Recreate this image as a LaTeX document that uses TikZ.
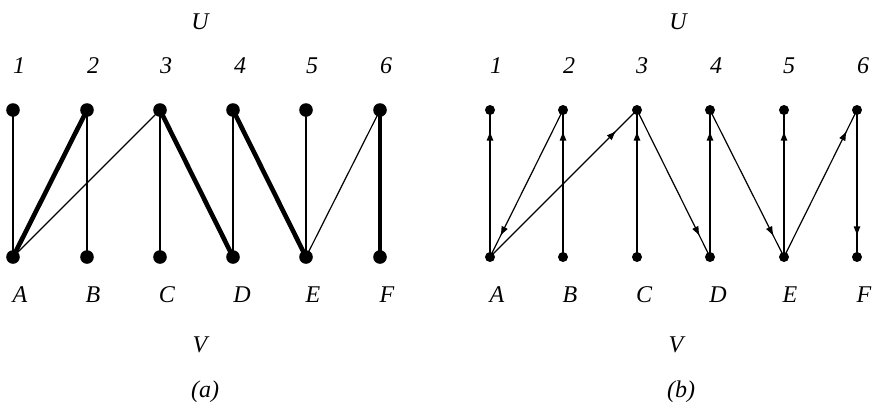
\documentclass[tikz,border=0pt]{standalone}
\usepackage{fontspec}
\setmainfont{Liberation Serif}
\usetikzlibrary{arrows.meta,decorations.markings}

\begin{document}
\begin{tikzpicture}[
    x=0.5pt, y=-0.5pt,
    bigdot/.style={circle, fill=black, inner sep=0pt, minimum size=6.8pt},
    smalldot/.style={circle, fill=black, inner sep=0pt, minimum size=5pt},
    lab/.style={font=\fontsize{12}{14}\selectfont\itshape, inner sep=0pt},
    thin/.style={line width=0.6pt},
    heavy/.style={line width=2.3pt},
    arr/.style={line width=0.6pt, postaction={decorate},
        decoration={markings, mark=at position 0.86 with {\arrow{Latex[length=5pt,width=3.5pt]}}}}
]
\useasboundingbox (0,0) rectangle (879,409);

% (a)
\node[lab] (ua) at (200,22) {U};
\node[lab] (va) at (200,345) {V};
\node[lab] (capa) at (205,392) {(a)};

\node[lab] (la1) at (19,66) {1};
\node[lab] (la2) at (93,66) {2};
\node[lab] (la3) at (166,66) {3};
\node[lab] (la4) at (240,66) {4};
\node[lab] (la5) at (312,66) {5};
\node[lab] (la6) at (386,66) {6};
\node[lab] (laA) at (20,295) {A};
\node[lab] (laB) at (93,295) {B};
\node[lab] (laC) at (167,295) {C};
\node[lab] (laD) at (242,295) {D};
\node[lab] (laE) at (313,295) {E};
\node[lab] (laF) at (387,295) {F};

\node[bigdot] (a1) at (13,110) {};
\node[bigdot] (a2) at (87,110) {};
\node[bigdot] (a3) at (160,110) {};
\node[bigdot] (a4) at (233,110) {};
\node[bigdot] (a5) at (306,110) {};
\node[bigdot] (a6) at (380,110) {};
\node[bigdot] (aA) at (13,257) {};
\node[bigdot] (aB) at (87,257) {};
\node[bigdot] (aC) at (160,257) {};
\node[bigdot] (aD) at (233,257) {};
\node[bigdot] (aE) at (306,257) {};
\node[bigdot] (aF) at (380,257) {};

\draw[thin] (a1.center) -- (aA.center);
\draw[thin] (a2.center) -- (aB.center);
\draw[thin] (a3.center) -- (aA.center);
\draw[thin] (a3.center) -- (aC.center);
\draw[thin] (a4.center) -- (aD.center);
\draw[thin] (a5.center) -- (aE.center);
\draw[thin] (a6.center) -- (aE.center);
\draw[heavy] (a2.center) -- (aA.center);
\draw[heavy] (a3.center) -- (aD.center);
\draw[heavy] (a4.center) -- (aE.center);
\draw[heavy] (a6.center) -- (aF.center);

% (b)
\node[lab] (ub) at (678,22) {U};
\node[lab] (vb) at (676,345) {V};
\node[lab] (capb) at (681,392) {(b)};

\node[lab] (lb1) at (496,66) {1};
\node[lab] (lb2) at (569,66) {2};
\node[lab] (lb3) at (642,66) {3};
\node[lab] (lb4) at (716,66) {4};
\node[lab] (lb5) at (789,66) {5};
\node[lab] (lb6) at (863,66) {6};
\node[lab] (lbA) at (497,295) {A};
\node[lab] (lbB) at (570,295) {B};
\node[lab] (lbC) at (644,295) {C};
\node[lab] (lbD) at (718,295) {D};
\node[lab] (lbE) at (790,295) {E};
\node[lab] (lbF) at (864,295) {F};

\node[smalldot] (b1) at (490,110) {};
\node[smalldot] (b2) at (563,110) {};
\node[smalldot] (b3) at (637,110) {};
\node[smalldot] (b4) at (710,110) {};
\node[smalldot] (b5) at (784,110) {};
\node[smalldot] (b6) at (857,110) {};
\node[smalldot] (bA) at (490,257) {};
\node[smalldot] (bB) at (563,257) {};
\node[smalldot] (bC) at (637,257) {};
\node[smalldot] (bD) at (710,257) {};
\node[smalldot] (bE) at (784,257) {};
\node[smalldot] (bF) at (857,257) {};

\draw[arr] (bA.center) -- (b1.center);
\draw[arr] (b2.center) -- (bA.center);
\draw[arr] (bA.center) -- (b3.center);
\draw[arr] (bB.center) -- (b2.center);
\draw[arr] (bC.center) -- (b3.center);
\draw[arr] (b3.center) -- (bD.center);
\draw[arr] (bD.center) -- (b4.center);
\draw[arr] (b4.center) -- (bE.center);
\draw[arr] (bE.center) -- (b5.center);
\draw[arr] (bE.center) -- (b6.center);
\draw[arr] (b6.center) -- (bF.center);
\end{tikzpicture}
\end{document}
